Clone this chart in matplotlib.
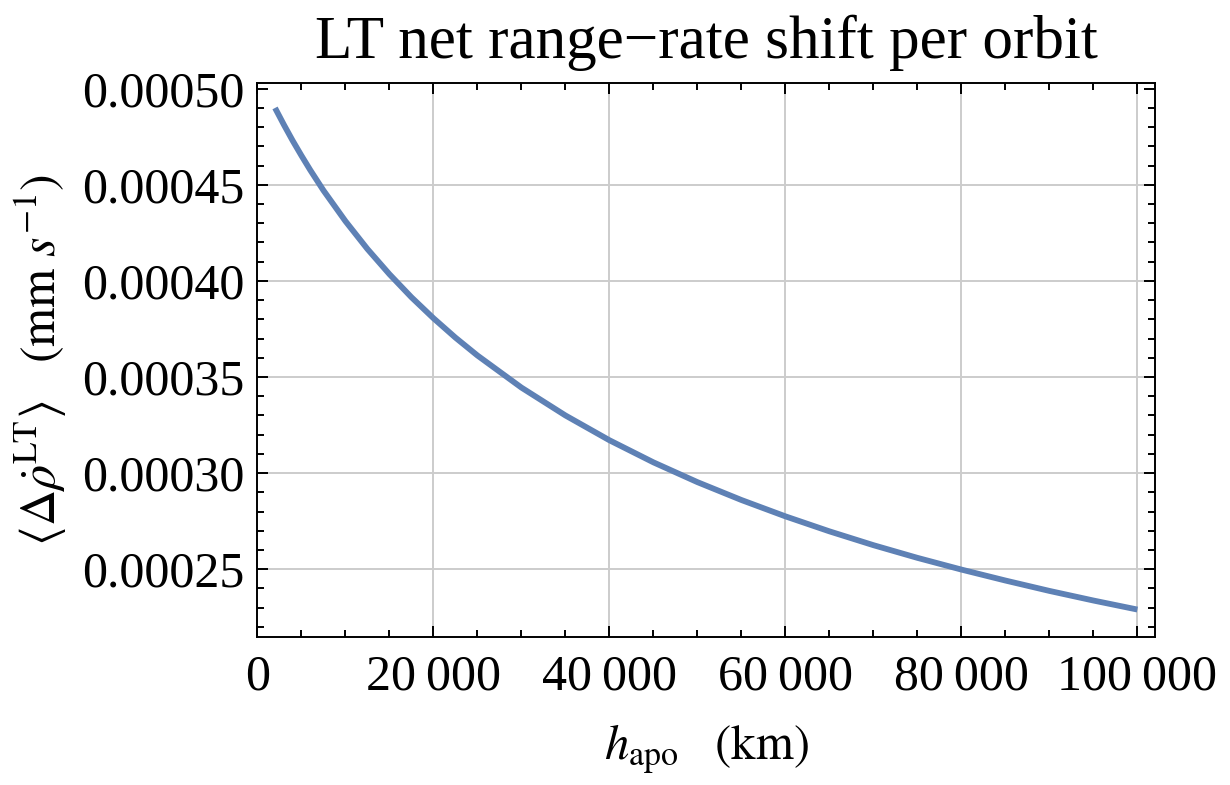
import matplotlib
matplotlib.use("Agg")
import matplotlib.pyplot as plt
from matplotlib.ticker import MultipleLocator, FuncFormatter

# Data
h_apo_km = [2000, 3000, 4000, 5000, 6000, 7500, 10000, 12500, 15000, 17500, 20000,
            22500, 25000, 30000, 35000, 40000, 45000, 50000, 55000, 60000, 65000,
            70000, 75000, 80000, 85000, 90000, 95000, 100000]
drho_lt = [0.000490, 0.0004813, 0.0004730, 0.0004652, 0.0004577, 0.0004471,
           0.0004311, 0.0004166, 0.0004035, 0.0003915, 0.0003806, 0.0003705,
           0.0003612, 0.0003445, 0.0003300, 0.0003171, 0.0003056, 0.0002953,
           0.0002860, 0.0002775, 0.0002697, 0.0002625, 0.0002559, 0.0002498,
           0.0002441, 0.0002387, 0.0002337, 0.0002290]
x_ticks = [0, 20000, 40000, 60000, 80000, 100000]
y_ticks = [0.00025, 0.00030, 0.00035, 0.00040, 0.00045, 0.00050]
x_grid = [20000, 40000, 60000, 80000, 100000]
y_grid = [0.00025, 0.00030, 0.00035, 0.00040, 0.00045]

plt.rcParams['font.family'] = ['Liberation Serif', 'DejaVu Serif']
plt.rcParams['mathtext.fontset'] = 'stix'

fig = plt.figure(figsize=(12.3, 7.85), dpi=100)
ax = fig.add_axes([0.2093, 0.1885, 0.9390 - 0.2093, 0.8943 - 0.1885])

for gx in x_grid:
    ax.axvline(gx, color='#cccccc', lw=1.4, zorder=0)
for gy in y_grid:
    ax.axhline(gy, color='#cccccc', lw=1.4, zorder=0)

ax.plot(h_apo_km, drho_lt, color='#5e81b5', lw=4.2, solid_capstyle='butt',
        solid_joinstyle='round', zorder=3)

ax.set_xlim(0, 102000)
ax.set_ylim(0.0002147, 0.000503)

ax.set_xticks(x_ticks)
ax.set_yticks(y_ticks)
ax.xaxis.set_minor_locator(MultipleLocator(5000))
ax.yaxis.set_minor_locator(MultipleLocator(0.00001))

def xfmt(v, pos):
    v = int(round(v))
    if v >= 10000:
        return f"{v:,}".replace(",", "\u2009")
    return str(v)

ax.xaxis.set_major_formatter(FuncFormatter(xfmt))
ax.yaxis.set_major_formatter(FuncFormatter(lambda v, p: f"{v:.5f}"))

ax.tick_params(which='both', direction='in', top=True, right=True,
               labeltop=False, labelright=False, width=1.4, color='black')
ax.tick_params(which='major', length=7.7, labelsize=36)
ax.tick_params(axis='y', which='major', pad=9)
ax.tick_params(axis='x', which='major', pad=12)
ax.tick_params(which='minor', length=4.8)

for sp in ax.spines.values():
    sp.set_linewidth(1.4)

ax.set_title('LT net range\u2212rate shift per orbit', fontsize=44, pad=18)
ax.set_xlabel(r'$h_{\mathrm{apo}}\ \ \ (\mathrm{km})$', fontsize=35, labelpad=16)
ax.set_ylabel(r'$\langle\Delta\dot{\rho}^{\mathrm{LT}}\rangle\ \ \ (\mathrm{mm}\ s^{-1})$',
              fontsize=36, labelpad=10)

fig.savefig('out.png', dpi=100)
